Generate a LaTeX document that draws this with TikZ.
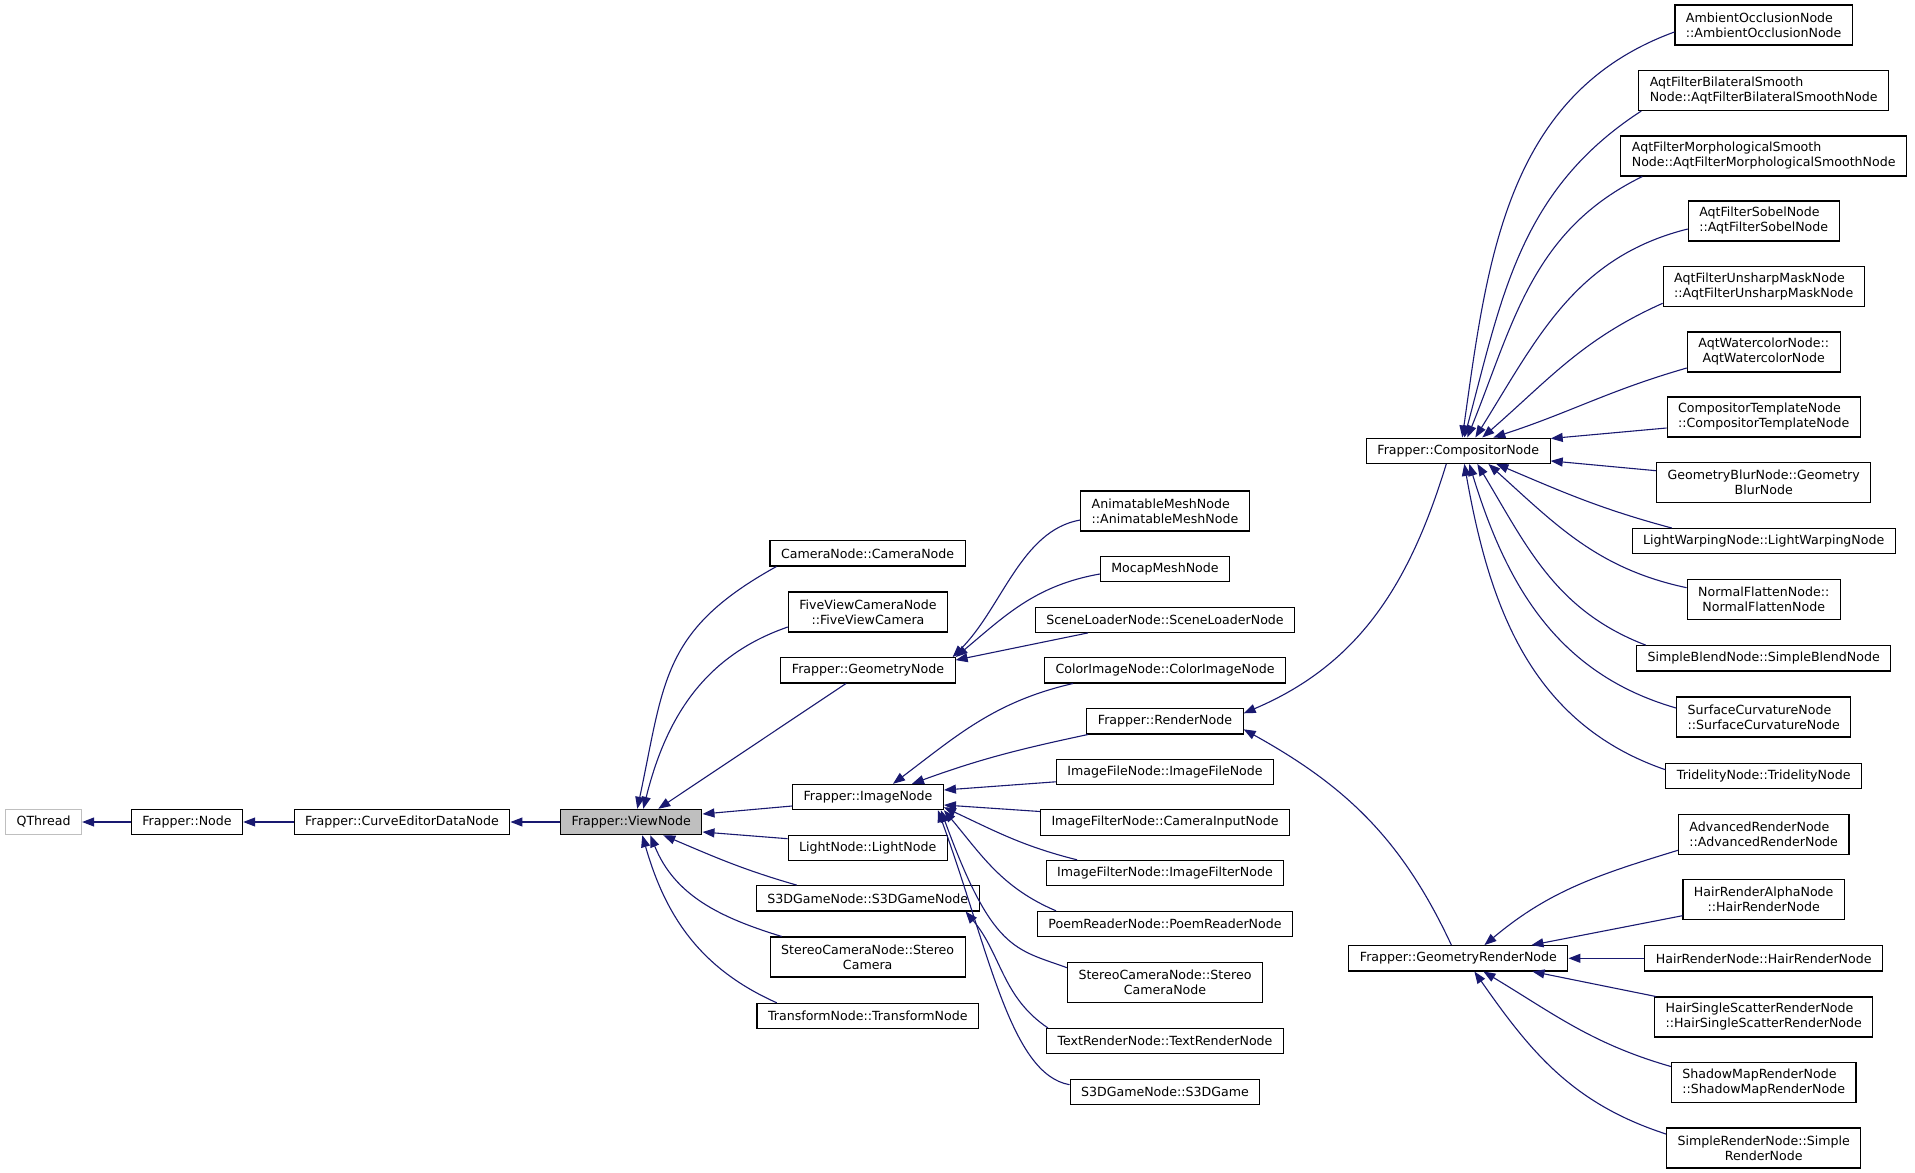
\documentclass[tikz,border=0pt]{standalone}
\usepackage{fontspec}
\setmainfont{DejaVu Sans}
\usetikzlibrary{arrows.meta,positioning}
\definecolor{navy}{HTML}{191970}
\definecolor{grey75}{HTML}{BFBFBF}

\begin{document}
\begin{tikzpicture}[x=1pt,y=1pt,node distance=143.4pt,on grid,
    cls/.style={draw,line width=1.1pt,inner xsep=11pt,inner ysep=2pt,
      minimum height=25.3pt,align=center,font=\fontsize{12.6}{15}\selectfont},
    tall/.style={minimum height=40pt},
    lft/.style={tall,align=left},
    ext/.style={cls,draw=grey75},
    cur/.style={cls,fill=grey75},
    inherit/.style={every edge/.style={draw=navy,line width=1.1pt,
      -{Triangle[length=12pt,width=9pt]}}}]
    \path[fill=white] (0,0) rectangle (1915,-1173);

    % base chain
    \node[ext] (qthread) at (43.6,-822) {QThread};
    \node[cls] (frnode) [right=of qthread] {Frapper::Node};
    \node[cls] (curve) [right=215pt of frnode] {Frapper::CurveEditorDataNode};
    \node[cur] (view) [right=229.3pt of curve] {Frapper::ViewNode};

    % children of the view node
    \node[cls] (camera) at (867.6,-553.3) {CameraNode::CameraNode};
    \node[cls,tall] (fiveview) at (868,-612) {FiveViewCameraNode\\::FiveViewCamera};
    \node[cls] (geom) at (868,-670.3) {Frapper::GeometryNode};
    \node[cls] (image) at (868,-797) {Frapper::ImageNode};
    \node[cls] (light) at (867.7,-847.7) {LightNode::LightNode};
    \node[cls] (s3dnode) at (867.7,-898.3) {S3DGameNode::S3DGameNode};
    \node[cls,tall] (stereo) at (867.7,-957) {StereoCameraNode::Stereo\\Camera};
    \node[cls] (transform) at (867.8,-1016) {TransformNode::TransformNode};

    % next column
    \node[cls,lft] (animesh) at (1165,-511) {AnimatableMeshNode\\::AnimatableMeshNode};
    \node[cls] (mocap) at (1165,-569) {MocapMeshNode};
    \node[cls] (sceneld) at (1165,-619.7) {SceneLoaderNode::SceneLoaderNode};
    \node[cls] (colorimg) at (1165,-670.3) {ColorImageNode::ColorImageNode};
    \node[cls] (render) at (1165,-721.3) {Frapper::RenderNode};
    \node[cls] (imgfile) at (1165,-771.8) {ImageFileNode::ImageFileNode};
    \node[cls] (caminput) at (1165,-822.5) {ImageFilterNode::CameraInputNode};
    \node[cls] (imgfilter) at (1165,-873) {ImageFilterNode::ImageFilterNode};
    \node[cls] (poem) at (1165,-924) {PoemReaderNode::PoemReaderNode};
    \node[cls,tall] (stereocam) at (1165,-982.7) {StereoCameraNode::Stereo\\CameraNode};
    \node[cls] (textrender) at (1165,-1041.2) {TextRenderNode::TextRenderNode};
    \node[cls] (s3dgame) at (1165,-1091.7) {S3DGameNode::S3DGame};

    % render nodes
    \node[cls] (compositor) at (1458.3,-450.7) {Frapper::CompositorNode};
    \node[cls] (georender) at (1458.4,-958.3) {Frapper::GeometryRenderNode};

    % leaves
    \node[cls,lft] (ambient) at (1763.7,-25) {AmbientOcclusionNode\\::AmbientOcclusionNode};
    \node[cls,lft] (bilateral) at (1763.7,-90.5) {AqtFilterBilateralSmooth\\Node::AqtFilterBilateralSmoothNode};
    \node[cls,lft] (morph) at (1763.7,-156) {AqtFilterMorphologicalSmooth\\Node::AqtFilterMorphologicalSmoothNode};
    \node[cls,lft] (sobel) at (1763.7,-221) {AqtFilterSobelNode\\::AqtFilterSobelNode};
    \node[cls,lft] (unsharp) at (1763.7,-286.3) {AqtFilterUnsharpMaskNode\\::AqtFilterUnsharpMaskNode};
    \node[cls,tall] (watercolor) at (1763.7,-352) {AqtWatercolorNode::\\AqtWatercolorNode};
    \node[cls,lft] (comptempl) at (1763.7,-417) {CompositorTemplateNode\\::CompositorTemplateNode};
    \node[cls,tall] (geoblur) at (1763.7,-482.7) {GeometryBlurNode::Geometry\\BlurNode};
    \node[cls] (lightwarp) at (1763.7,-541.2) {LightWarpingNode::LightWarpingNode};
    \node[cls,tall] (normflat) at (1763.7,-599.7) {NormalFlattenNode::\\NormalFlattenNode};
    \node[cls] (simpleblend) at (1763.7,-658.3) {SimpleBlendNode::SimpleBlendNode};
    \node[cls,lft] (surfcurv) at (1763.7,-717) {SurfaceCurvatureNode\\::SurfaceCurvatureNode};
    \node[cls] (tridelity) at (1763.7,-775.7) {TridelityNode::TridelityNode};
    \node[cls,lft] (advrender) at (1763.7,-834.3) {AdvancedRenderNode\\::AdvancedRenderNode};
    \node[cls,tall] (hairalpha) at (1763.7,-899.7) {HairRenderAlphaNode\\::HairRenderNode};
    \node[cls] (hairrender) at (1763.7,-958.3) {HairRenderNode::HairRenderNode};
    \node[cls,lft] (hairscatter) at (1763.7,-1017) {HairSingleScatterRenderNode\\::HairSingleScatterRenderNode};
    \node[cls,lft] (shadowmap) at (1763.7,-1082.5) {ShadowMapRenderNode\\::ShadowMapRenderNode};
    \node[cls,tall] (simplerender) at (1763.7,-1148) {SimpleRenderNode::Simple\\RenderNode};

    \path[inherit]
    (frnode) edge (qthread)
    (curve) edge (frnode)
    (view) edge (curve)
    ([xshift=7pt]camera.south west) edge [out=209,in=78,looseness=1.2] ([xshift=6pt]view.north)
    ([yshift=-15pt]fiveview.west) edge [out=199,in=76] ([xshift=12pt]view.north)
    ([xshift=-22pt]geom.south) edge ([xshift=27pt]view.north)
    ([yshift=-9pt]image.west) edge ([yshift=8pt]view.east)
    ([yshift=9pt]light.west) edge ([yshift=-10pt]view.east)
    ([xshift=-71pt]s3dnode.north) edge [out=164,in=337] ([xshift=32pt]view.south)
    ([xshift=-86pt]stereo.north) edge [out=163,in=292] ([xshift=19pt]view.south)
    ([xshift=-91pt]transform.north) edge [out=156,in=286] ([xshift=11pt]view.south)
    ;
    \path[inherit]
    ([yshift=-9pt]animesh.west) edge [out=190,in=45,out distance=60pt,in distance=70pt] ([xshift=-3pt]geom.north east)
    ([yshift=-5pt]mocap.west) edge [out=190,in=40] (geom.north east)
    ([xshift=-77pt]sceneld.south) edge ([yshift=-3pt]geom.north east)
    ([xshift=-92pt]colorimg.south) edge [out=193,in=37] ([xshift=25pt]image.north)
    ([xshift=-77pt]render.south) edge [out=192,in=20] ([xshift=44pt]image.north)
    ([yshift=-10pt]imgfile.west) edge ([yshift=7pt]image.east)
    ([yshift=11pt]caminput.west) edge ([yshift=-8pt]image.east)
    ([xshift=-88pt]imgfilter.north) edge [out=166,in=335] ([yshift=3pt]image.south east)
    ([xshift=-109pt]poem.north) edge [out=157,in=310] (image.south east)
    ([yshift=15pt]stereocam.west) edge [out=160,in=290,out distance=55pt,in distance=150pt] ([xshift=-3pt]image.south east)
    ([yshift=7pt]s3dgame.west) edge [out=170,in=290,out distance=60pt,in distance=150pt] ([xshift=-6pt]image.south east)
    ([xshift=-117pt]textrender.north) edge [out=146,in=310] ([xshift=-14pt]s3dnode.south east)
    ([xshift=-12pt]compositor.south) edge [out=253,in=23] ([yshift=8pt]render.east)
    ([xshift=-7pt]georender.north) edge [out=115,in=331] ([yshift=-8pt]render.east)
    ;
    \path[inherit]
    ([yshift=-7pt]ambient.west) edge [out=200,in=82] ([xshift=4pt]compositor.north)
    ([xshift=3pt]bilateral.south west) edge [out=213,in=75] ([xshift=6pt]compositor.north)
    ([xshift=22pt]morph.south west) edge [out=206,in=68] ([xshift=9pt]compositor.north)
    ([yshift=-8pt]sobel.west) edge [out=194,in=58] ([xshift=17pt]compositor.north)
    ([yshift=-17pt]unsharp.west) edge [out=204,in=41] ([xshift=24pt]compositor.north)
    ([yshift=-16pt]watercolor.west) edge [out=196,in=18] ([xshift=35pt]compositor.north)
    ([yshift=-11pt]comptempl.west) edge ([yshift=-1pt]compositor.north east)
    ([yshift=12pt]geoblur.west) edge ([yshift=3pt]compositor.south east)
    ([xshift=-92pt]lightwarp.north) edge [out=165,in=337] ([xshift=38pt]compositor.south)
    ([yshift=12pt]normflat.west) edge [out=168,in=318] ([xshift=30pt]compositor.south)
    ([xshift=-118pt]simpleblend.north) edge [out=159,in=301] ([xshift=19pt]compositor.south)
    ([yshift=9pt]surfcurv.west) edge [out=164,in=287] ([xshift=11pt]compositor.south)
    ([yshift=6pt]tridelity.west) edge [out=161,in=280] ([xshift=6pt]compositor.south)
    ;
    \path[inherit]
    ([yshift=-16pt]advrender.west) edge [out=197,in=40] ([xshift=26pt]georender.north)
    ([yshift=-16pt]hairalpha.west) edge ([xshift=-37pt]georender.north east)
    (hairrender) edge (georender)
    ([xshift=-108pt]hairscatter.north) edge ([xshift=-36pt]georender.south east)
    ([yshift=16pt]shadowmap.west) edge [out=164,in=329] ([xshift=25pt]georender.south)
    ([yshift=14pt]simplerender.west) edge [out=162,in=305] ([xshift=16pt]georender.south)
    ;
  \end{tikzpicture}
\end{document}
